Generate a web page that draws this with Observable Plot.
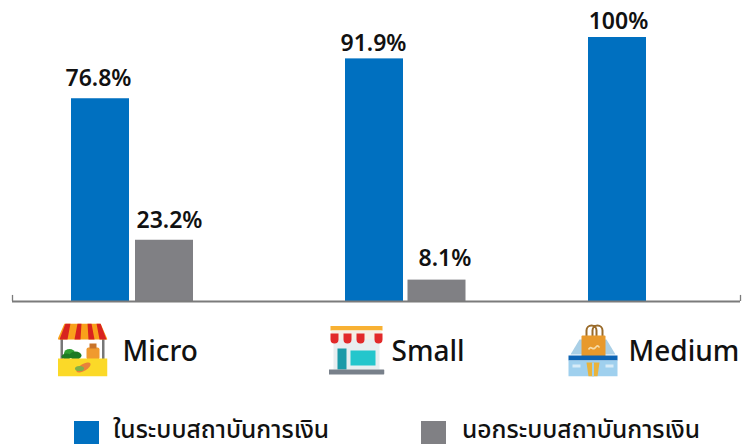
<!DOCTYPE html>
<html lang="th">
<head>
<meta charset="utf-8">
<script src="https://cdn.jsdelivr.net/npm/d3@7"></script>
<script src="https://cdn.jsdelivr.net/npm/@observablehq/plot@0.6"></script>
<style>
  html, body { margin: 0; padding: 0; background: #fff; overflow: hidden; width: 742px; height: 444px; }
  svg { display: block; }
  #legend { position: relative; height: 34px; overflow: hidden; font: 500 24.6px "Noto Sans", "Noto Sans Thai", "Liberation Sans", sans-serif; color: #111; }
  .sw { position: absolute; top: 11px; width: 25px; height: 24px; }
  .lb { position: absolute; top: 4px; white-space: nowrap; line-height: 30px; }
</style>
</head>
<body>
<div id="chart"></div>
<div id="legend"></div>
<script>
// Data
const categories = ["Micro", "Small", "Medium"];
const seriesNames = ["ในระบบสถาบันการเงิน", "นอกระบบสถาบันการเงิน"];
const inSystem = [76.8, 91.9, 100];
const outSystem = [23.2, 8.1, null];
const valueLabels = {"Micro|0": "76.8%", "Micro|1": "23.2%", "Small|0": "91.9%", "Small|1": "8.1%", "Medium|0": "100%"};

// Table built from the arrays
const rows = [];
categories.forEach((c, i) => {
  rows.push({key: c + "|0", series: seriesNames[0], value: inSystem[i]});
  if (outSystem[i] != null) rows.push({key: c + "|1", series: seriesNames[1], value: outSystem[i]});
});

// Styling and layout (not data)
const colors = ["#0070c0", "#808084"];
const font = '"Noto Sans", "Liberation Sans", sans-serif';
const slot = {"Micro|0": 100, "Micro|1": 164, "Small|0": 374, "Small|1": 436.5, "Medium|0": 617};
const barWidth = 58;
const labelNudge = {"Micro|0": [-2, -20], "Micro|1": [5, -20], "Small|0": [-1, -15], "Small|1": [8, -21], "Medium|0": [1, -16]};

const svgUri = s => "data:image/svg+xml;utf8," + encodeURIComponent(s);
const iconMicro = svgUri(`<svg xmlns="http://www.w3.org/2000/svg" viewBox="0 0 50 53">
<rect x="3" y="14" width="2.5" height="24" fill="#777"/><rect x="44.5" y="14" width="2.5" height="24" fill="#777"/>
<path d="M7 0H43L50 16H0Z" fill="#f9a11b"/>
<path d="M8 0h5l-3 16H2ZM20 0h4l-1 16h-6ZM30 0h4l3 16h-6ZM39 0h4l6 16h-7Z" fill="#d8231f"/>
<ellipse cx="12" cy="30" rx="5.5" ry="4.5" fill="#2f9e32"/><ellipse cx="18" cy="32" rx="6" ry="4" fill="#1c7a24"/><ellipse cx="9" cy="33" rx="5" ry="3" fill="#1c7a24"/>
<rect x="29" y="24" width="13" height="12" rx="2" fill="#f09a2e"/><rect x="32" y="20" width="7" height="5" fill="#c9742a"/>
<rect x="0" y="35" width="50" height="18" fill="#fbd928"/>
<ellipse cx="26" cy="44" rx="8" ry="3.4" transform="rotate(-30 26 44)" fill="#e8823a"/><ellipse cx="22" cy="45" rx="4.5" ry="2.6" fill="#7fb04a"/>
</svg>`);
const iconSmall = svgUri(`<svg xmlns="http://www.w3.org/2000/svg" viewBox="0 0 56 50">
<rect x="5" y="10" width="46" height="34" fill="#e8eef0"/>
<rect x="2" y="0" width="52" height="5" fill="#f8b133"/>
<path d="M3 5h50l1 9H2Z" fill="#f5f0e6"/>
<path d="M2 8h8v6a4 4 0 0 1-8 0ZM15 8h8v6a4 4 0 0 1-8 0ZM28 8h8v6a4 4 0 0 1-8 0ZM46 8h8v6a4 4 0 0 1-8 0Z" fill="#e22a2a"/>
<rect x="9" y="23" width="9" height="21" fill="#1b9aa8"/><rect x="22" y="25" width="25" height="15" fill="#24c6cc"/>
<rect x="0" y="44" width="56" height="5" rx="1" fill="#78808a"/>
</svg>`);
const iconMedium = svgUri(`<svg xmlns="http://www.w3.org/2000/svg" viewBox="0 0 51 53">
<path d="M12 16 3 31H48L39 16Z" fill="#a9cfe6"/>
<path d="M19 16v-9a5 5 0 0 1 10 0v9M25 16v-9a5 5 0 0 1 10 0v9" fill="none" stroke="#9a6b2a" stroke-width="2"/>
<rect x="14" y="12" width="24" height="24" rx="1" fill="#e8992c"/>
<path d="M21 26c3-5 4 2 7-2s3 1 4-1" fill="none" stroke="#f7dca8" stroke-width="1.6"/>
<rect x="1" y="32" width="49" height="5" fill="#0d64b4"/>
<rect x="1" y="37" width="49" height="16" fill="#9fd0ee"/>
<path d="M5 41h8v3H5ZM38 41h8v3H38Z" fill="#d7ecf8"/>
<path d="M19 39h13l-2 14h-9Z" fill="#e8b33c"/><path d="M24.5 39h2v14h-2Z" fill="#9fd0ee"/>
</svg>`);

const categoryLayout = [
  {name: "Micro",  icon: iconMicro,  iconX: 82,  iconY: 349.5, iconW: 50, iconH: 53, textX: 122},
  {name: "Small",  icon: iconSmall,  iconX: 356, iconY: 350,   iconW: 56, iconH: 50, textX: 391},
  {name: "Medium", icon: iconMedium, iconX: 592.5, iconY: 349.5, iconW: 51, iconH: 53, textX: 628}
];

const W = 742, H = 410, plotTop = 37, baseline = 301, plotLeft = 12, plotRight = 740;
const frameDx = x => x - plotLeft, frameDy = y => y - plotTop;

const marks = [
  Plot.rectY(rows, {
    x1: d => slot[d.key] - barWidth / 2, x2: d => slot[d.key] + barWidth / 2,
    y1: 0, y2: "value", fill: "series"
  }),
  Plot.ruleX([plotLeft, plotRight], {y1: 0, y2: 2.3, stroke: "#7b7b7b", strokeWidth: 1.3}),
  Plot.ruleY([0], {stroke: "#7b7b7b", strokeWidth: 2}),
];

rows.forEach(r => {
  const [dx, dy] = labelNudge[r.key];
  marks.push(Plot.text([r], {
    x: d => slot[d.key], y: "value", text: d => valueLabels[d.key], dx, dy,
    fontSize: 23, fontWeight: 600, fill: "#111", fontFamily: font, textAnchor: "middle", lineAnchor: "middle"
  }));
});

categoryLayout.forEach(c => {
  marks.push(Plot.image([c], {
    frameAnchor: "top-left", src: d => d.icon, width: c.iconW, height: c.iconH,
    dx: frameDx(c.iconX), dy: frameDy(c.iconY), preserveAspectRatio: "none"
  }));
  marks.push(Plot.text([c], {
    frameAnchor: "top-left", text: "name", dx: frameDx(c.textX), dy: frameDy(351.5),
    fontSize: 28, fontWeight: 500, fill: "#111", fontFamily: font, textAnchor: "start", lineAnchor: "middle"
  }));
});

const chart = Plot.plot({
  width: W, height: H,
  marginTop: plotTop, marginBottom: H - baseline, marginLeft: plotLeft, marginRight: W - plotRight,
  x: {domain: [plotLeft, plotRight], range: [plotLeft, plotRight], axis: null},
  y: {domain: [0, 100], range: [baseline, plotTop], axis: null},
  color: {domain: seriesNames, range: colors},
  style: {background: "#fff", fontFamily: font},
  marks
});
document.getElementById("chart").appendChild(chart);

// Legend below the SVG
const legend = document.getElementById("legend");
const legendLayout = [{sw: 74, text: 113}, {sw: 421, text: 462}];
seriesNames.forEach((s, i) => {
  const sw = document.createElement("div");
  sw.className = "sw"; sw.style.left = legendLayout[i].sw + "px"; sw.style.background = colors[i];
  const lb = document.createElement("div");
  lb.className = "lb"; lb.style.left = legendLayout[i].text + "px"; lb.textContent = s;
  legend.append(sw, lb);
});
</script>
</body>
</html>
